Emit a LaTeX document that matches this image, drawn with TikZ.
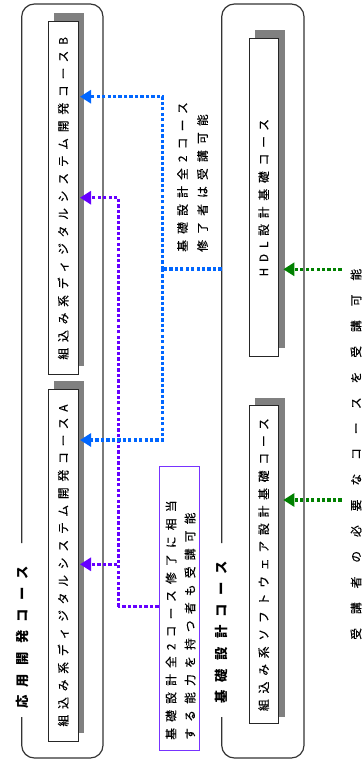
\documentclass[tikz,border=0pt]{standalone}
\usepackage{fontspec}
\newfontfamily\jp{Noto Sans CJK JP}
\usetikzlibrary{arrows.meta}
\definecolor{cblue}{HTML}{0066FF}
\definecolor{cpurple}{HTML}{6600FF}
\definecolor{cgreen}{HTML}{008000}
\definecolor{cshadow}{HTML}{808080}
\definecolor{cframe}{HTML}{333333}
\definecolor{cpbox}{HTML}{7733FF}
\begin{document}
\begin{tikzpicture}[x=0.75pt,y=-0.75pt,
  frame/.style={draw=cframe, line width=0.9pt, rounded corners=9.5pt},
  shade/.style={fill=cshadow, draw=none},
  box/.style={draw=black!85, line width=0.8pt, fill=white, inner sep=0, rotate=90,
    font=\jp\fontsize{8.8}{10}\selectfont\addfontfeature{LetterSpace=50,FakeBold=0.4}},
  title/.style={inner sep=0, rotate=90,
    font=\jp\bfseries\fontsize{10}{11}\selectfont\addfontfeature{LetterSpace=62}},
  note/.style={inner sep=0, rotate=90, anchor=west,
    font=\jp\fontsize{8.8}{10}\selectfont\addfontfeature{LetterSpace=#1,FakeBold=0.4}},
  note/.default=53,
  pboxst/.style={draw=cpbox, line width=0.75pt, fill=white, inner sep=0},
  conn/.style={draw=#1, line width=2.5pt, dash pattern=on 2.5pt off 1.6pt},
  tip/.style={-{Triangle[length=8.25pt,width=9.75pt]}}
]
\useasboundingbox (0,0) rectangle (363,760);

% group frames with a gap for their titles
\draw[frame] (21.7,543) -- (21.7,4) -- (103,4) -- (103,758) -- (21.7,758) -- (21.7,717);
\draw[frame] (221.7,543) -- (221.7,4) -- (304,4) -- (304,758) -- (221.7,758) -- (221.7,717);
\node[title] (t1) at (22,637.5) {応用開発コース};
\node[title] (t2) at (221.7,632.5) {基礎設計コース};

% shadows
\fill[shade] (54.3,12.7) rectangle (84.3,366);
\fill[shade] (54.3,380.7) rectangle (84.3,733);
\fill[shade] (255,30) rectangle (285,348.3);
\fill[shade] (255,398) rectangle (285,716.7);

% course boxes
\node[box, minimum width=353*0.75pt, minimum height=30*0.75pt] (bB) at (63.2,198.3)
  {組込み系ディジタルシステム開発コースB};
\node[box, minimum width=352.5*0.75pt, minimum height=30*0.75pt] (bA) at (63.2,565.5)
  {組込み系ディジタルシステム開発コースA};
\node[box, minimum width=318*0.75pt, minimum height=29.3*0.75pt] (bH) at (263.7,197.7)
  {HDL設計基礎コース};
\node[box, minimum width=317.3*0.75pt, minimum height=29.3*0.75pt] (bS) at (263.7,564.6)
  {組込み系ソフトウェア設計基礎コース};

% purple condition box
\node[pboxst, minimum width=40.3*0.75pt, minimum height=284*0.75pt] (pb) at (179.2,608) {};
\node[note] (p1) at (171,740) {基礎設計全2コース修了に相当};
\node[note] (p2) at (190,740) {する能力を持つ者も受講可能};

% blue annotation
\node[note] (n1) at (182.5,252) {基礎設計全2コース};
\node[note] (n2) at (202.5,252) {修了者は受講可能};

% green annotation
\node[note=119] (g) at (356,640) {受講者の必要なコースを受講可能};

% connector points
\coordinate (rfL) at (221.7,269);
\coordinate (bj) at (162.7,269);
\coordinate (tBb) at (80,96.7);
\coordinate (tAb) at (80,440);
\coordinate (pj) at (118.3,606.7);
\coordinate (tBp) at (80,197.7);
\coordinate (tAp) at (80,564.3);
\coordinate (g1) at (341.7,269.3);
\coordinate (g1t) at (283.3,269.3);
\coordinate (g2) at (341.7,500);
\coordinate (g2t) at (283.3,500);

% purple connectors
\draw[conn=cpurple] (pb.west |- pj) -- (pj);
\draw[conn=cpurple, tip] (pj) |- (tBp);
\draw[conn=cpurple, tip] (pj) |- (tAp);

% blue connectors
\draw[conn=cblue] (rfL) -- (bj);
\draw[conn=cblue, tip] (bj) |- (tBb);
\draw[conn=cblue, tip] (bj) |- (tAb);

% green connectors
\draw[conn=cgreen, tip] (g1) -- (g1t);
\draw[conn=cgreen, tip] (g2) -- (g2t);
\end{tikzpicture}
\end{document}
